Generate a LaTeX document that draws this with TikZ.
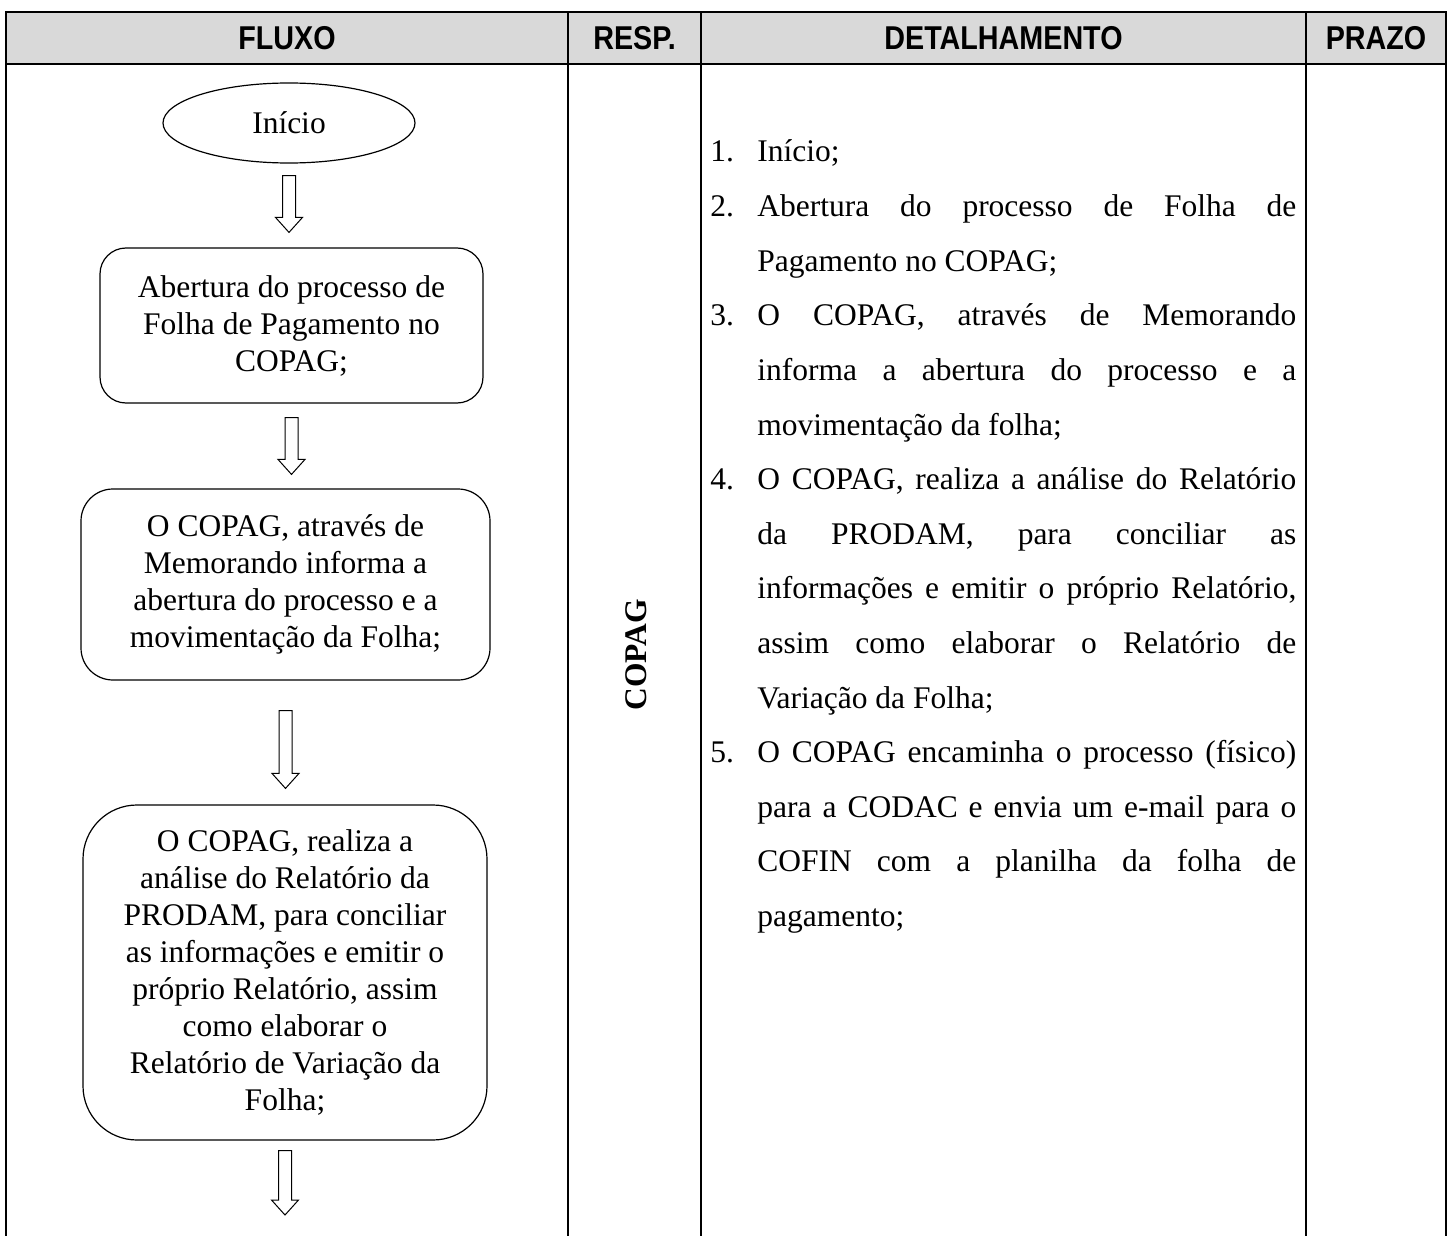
\documentclass[tikz,border=0pt]{standalone}
\usepackage{fontspec}
\setmainfont{Liberation Serif}
\newfontfamily\hdrfont[FakeStretch=0.87]{Liberation Sans}
\usetikzlibrary{positioning,calc,shapes.geometric}
\definecolor{hdrgray}{HTML}{D9D9D9}
\newcommand{\bodyfont}{\fontsize{15.75}{18.5}\selectfont}
% hollow block arrow pointing down, from #1 (top of shaft) to #2 (tip)
\newcommand{\hollowdown}[2]{%
  \path[flowarrow] let \p1=#1, \p2=#2 in
    (\x1-3.25pt,\y1) -- (\x1+3.25pt,\y1) -- (\x1+3.25pt,\y2+7.5pt)
    -- (\x1+6.75pt,\y2+7.5pt) -- (\x1,\y2) -- (\x1-6.75pt,\y2+7.5pt)
    -- (\x1-3.25pt,\y2+7.5pt) -- cycle;}

\begin{document}
\begin{tikzpicture}[x=0.5pt, y=-0.5pt,
  grid/.style={line width=1pt},
  headtxt/.style={font=\hdrfont\bfseries\fontsize{16.5}{19}\selectfont},
  flowbox/.style={draw, line width=0.6pt, align=center, inner sep=0pt, font=\bodyfont},
  flowarrow/.style={draw, line width=0.5pt, fill=white},
  detail/.style={anchor=base west, inner sep=0pt, font=\bodyfont}]
\useasboundingbox (0,0) rectangle (1448,1236);
% table
\fill[hdrgray] (6,12) rectangle (1446,64);
\draw[grid] (6,1236) -- (6,12) -- (1446,12) -- (1446,1236);
\draw[grid] (6,64) -- (1446,64);
\foreach \xc in {568,701,1306} \draw[grid] (\xc,12) -- (\xc,1236);
\node[headtxt] (hfluxo) at (287,38) {FLUXO};
\node[headtxt] (hresp) at (634.5,38) {RESP.};
\node[headtxt] (hdet) at (1003.5,38) {DETALHAMENTO};
\node[headtxt] (hprazo) at (1376,38) {PRAZO};
% flow
\node[flowbox, ellipse, minimum width=126pt, minimum height=40pt] (ini) at (289,123) {Início};
\node[flowbox, rounded corners=13pt, minimum width=191.5pt, minimum height=77.5pt] (abre) at (291.5,325.5)
  {Abertura do processo de\\Folha de Pagamento no\\COPAG;};
\node[flowbox, rounded corners=16pt, minimum width=204.5pt, minimum height=95.5pt] (memo) at (285.5,584.5)
  {O COPAG, através de\\Memorando informa a\\abertura do processo e a\\movimentação da Folha;};
\node[flowbox, rounded corners=27pt, minimum width=202pt, minimum height=167.5pt] (anal) at (285,972.5)
  {O COPAG, realiza a\\análise do Relatório da\\PRODAM, para conciliar\\as informações e emitir o\\próprio Relatório, assim\\como elaborar o\\Relatório de Variação da\\Folha;};
\coordinate (fim) at (283,1215);
\hollowdown{($(ini.south)+(0,12)$)}{($(abre.north)+(0,-15)$)}
\hollowdown{($(abre.south)+(0,14)$)}{($(memo.north)+(0,-14)$)}
\hollowdown{($(memo.south)+(0,30)$)}{($(anal.north)+(0,-16)$)}
\hollowdown{($(anal.south)+(0,10)$)}{(fim)}
% resp
\node[font=\bodyfont\bfseries, rotate=90] (resp) at (636,655) {COPAG};
% detail
\foreach \num/\k in {1/0, 2/1, 3/3, 4/6, 5/11}
  \node[detail] (n\num) at (710,{162+54.6*\k}) {\num.};
\foreach \k/\txt/\jst in {0/{Início;}/n, 1/{Abertura do processo de Folha de}/j,
  2/{Pagamento no COPAG;}/n, 3/{O COPAG, através de Memorando}/j,
  4/{informa a abertura do processo e a}/j, 5/{movimentação da folha;}/n,
  6/{O COPAG, realiza a análise do Relatório}/j, 7/{da PRODAM, para conciliar as}/j,
  8/{informações e emitir o próprio Relatório,}/j, 9/{assim como elaborar o Relatório de}/j,
  10/{Variação da Folha;}/n, 11/{O COPAG encaminha o processo (físico)}/j,
  12/{para a CODAC e envia um e-mail para o}/j, 13/{COFIN com a planilha da folha de}/j,
  14/{pagamento;}/n}
  \node[detail] (d\k) at (757,{162+54.6*\k}) {\if j\jst\makebox[269.5pt][s]{\txt}\else\txt\fi};
\end{tikzpicture}
\end{document}
